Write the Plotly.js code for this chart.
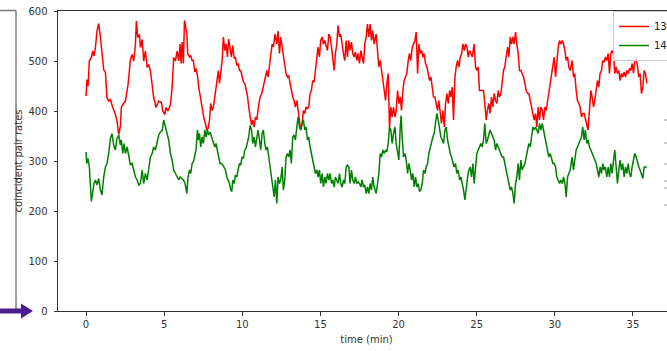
<!DOCTYPE html>
<html>
<head>
<meta charset="utf-8">
<script src="https://cdn.plot.ly/plotly-3.0.1.min.js"></script>
<style>
html, body { margin: 0; padding: 0; overflow: hidden; background: #ffffff; }
#chart { width: 690px; height: 351px; }
</style>
</head>
<body>
<div id="chart"></div>
<script>
// ---- data ----
const seriesNames = ["13", "14"];
const xTicks = [0, 5, 10, 15, 20, 25, 30, 35];
const yTicks = [0, 100, 200, 300, 400, 500, 600];

const timeRed = [
0.0,0.06,0.13,0.21,0.34,0.43,0.51,0.60,0.70,0.81,0.92,1.02,1.13,1.24,1.34,1.45,1.56,1.71,1.88,1.98,
2.09,2.20,2.26,2.35,2.52,2.69,2.84,2.95,3.05,3.16,3.22,3.31,3.41,3.48,3.59,3.69,3.80,3.91,4.01,4.12,
4.23,4.33,4.48,4.65,4.82,4.91,5.04,5.12,5.25,5.40,5.51,5.61,5.72,5.83,5.93,
6.02,6.08,6.15,6.23,6.30,6.38,6.45,6.51,6.62,6.70,6.79,6.87,6.96,7.04,7.13,7.21,7.30,7.38,7.47,7.55,
7.64,7.73,7.81,7.90,7.98,8.07,8.15,8.26,8.37,8.47,8.54,8.62,8.71,8.79,8.88,8.96,9.05,9.13,9.22,9.30,
9.39,9.48,9.56,9.65,9.73,9.82,9.90,9.99,10.07,10.16,10.24,10.33,10.41,10.50,10.59,10.67,10.76,10.84,10.93,11.03,
11.14,11.25,11.35,11.46,11.57,11.65,11.74,11.82,11.91,11.99,12.10,12.21,
12.29,12.38,12.46,12.55,12.63,12.72,12.80,12.89,12.97,13.06,13.14,13.23,13.31,13.40,13.49,13.57,13.66,13.74,13.83,13.91,
14.00,14.08,14.17,14.25,14.34,14.42,14.51,14.60,14.68,14.77,14.85,14.94,15.02,15.11,15.19,15.28,15.36,15.45,15.54,15.62,
15.71,15.79,15.88,15.96,16.05,16.13,16.22,16.30,16.39,16.47,16.56,16.65,16.73,16.82,16.90,16.99,17.07,17.16,17.24,17.33,
17.41,17.50,17.59,17.67,17.76,17.84,17.93,18.01,18.10,18.18,18.27,18.35,18.44,
18.57,18.66,18.74,18.83,18.91,19.00,19.08,19.17,19.25,19.34,19.42,19.51,19.59,19.68,19.77,19.85,19.94,20.02,20.11,20.19,
20.28,20.36,20.45,20.53,20.62,20.70,20.79,20.88,20.96,21.05,21.13,21.22,21.30,21.39,21.47,21.56,21.64,21.73,21.82,21.90,
21.99,22.07,22.16,22.24,22.33,22.41,22.50,22.58,22.67,22.75,22.84,22.93,23.01,23.10,23.18,23.27,23.35,23.44,23.52,23.61,
23.69,23.78,23.87,23.95,24.04,24.12,24.21,24.29,24.38,24.46,24.55,24.63,24.72,
24.84,24.93,25.01,25.10,25.18,25.27,25.35,25.44,25.52,25.61,25.69,25.78,25.86,25.95,26.04,26.12,26.21,26.29,26.38,26.46,
26.55,26.63,26.72,26.80,26.89,26.98,27.06,27.15,27.23,27.32,27.40,27.49,27.57,27.66,27.74,27.83,27.91,28.00,28.09,28.17,
28.26,28.34,28.43,28.51,28.60,28.68,28.77,28.85,28.94,29.02,29.11,29.20,29.28,29.37,29.45,29.54,29.62,29.71,29.79,29.88,
29.96,30.05,30.13,30.22,30.31,30.39,30.48,30.56,30.65,30.73,30.82,30.90,30.99,
31.11,31.20,31.28,31.37,31.45,31.54,31.62,31.71,31.79,31.88,31.96,32.05,32.13,32.22,32.31,32.39,32.48,32.56,32.65,32.73,
32.82,32.90,32.99,33.07,33.16,33.24,33.33,33.42,33.50,33.59,33.67,33.76,33.84,33.93,34.01,34.10,34.18,34.27,34.35,34.44,
34.53,34.61,34.70,34.78,34.87,34.95,35.04,35.12,35.21,35.29,35.38,35.46,35.55,35.64,35.72,35.81,35.89
];

const rate13 = [
430,463,450,500,507,520,510,527,560,575,547,513,483,477,427,420,423,407,393,380,
353,370,407,413,420,453,503,513,500,533,580,547,553,527,543,500,520,487,493,480,
453,427,407,420,417,400,393,407,400,413,447,507,500,520,500,
534,495,538,495,581,568,554,515,508,511,501,501,478,485,471,448,431,415,401,385,
375,362,365,382,415,401,408,435,455,481,455,475,501,548,521,534,508,544,528,508,
531,505,508,491,495,481,481,468,458,455,441,431,408,388,372,382,368,388,382,408,
428,435,448,461,481,468,495,521,534,528,554,534,
560,515,548,528,508,488,475,468,471,455,441,428,421,408,421,401,382,362,375,401,
395,408,405,408,435,441,461,458,481,501,528,508,541,548,534,541,528,521,554,548,
528,501,481,515,534,571,548,554,528,515,501,541,508,541,521,538,515,508,518,501,
515,495,521,508,495,534,548,574,548,574,541,561,534,
554,508,488,501,481,468,441,421,455,475,368,408,388,408,388,401,441,415,428,401,
441,461,468,475,501,515,501,528,534,541,558,475,534,515,521,508,515,495,488,475,
461,468,441,428,428,415,401,421,388,375,401,368,415,435,415,441,428,448,382,468,
488,501,488,508,515,534,521,534,528,508,521,515,508,
534,488,481,488,441,441,441,441,415,382,401,415,395,428,408,435,421,415,441,428,
435,455,481,488,515,528,508,548,534,548,534,558,534,515,481,481,475,468,455,441,
435,435,421,408,401,382,395,368,408,382,408,401,382,408,401,421,435,455,468,488,
508,468,501,528,541,534,541,534,521,501,508,488,481,
501,468,475,441,421,415,408,388,395,395,382,375,362,401,441,428,408,421,441,461,
448,475,481,501,498,508,501,515,475,515,521,515,475,488,475,481,461,475,468,478,
468,481,475,485,481,495,475,501,508,488,468,475,435,448,481,475,455
];

const timeGreen = [
0.0,0.04,0.13,0.21,0.34,0.43,0.51,0.60,0.70,0.81,0.92,1.02,1.13,1.24,1.34,1.45,1.56,1.66,1.77,1.88,
1.98,2.09,2.20,2.26,2.35,2.43,2.52,2.63,2.73,2.84,2.95,3.05,3.16,3.27,3.37,3.48,3.59,3.69,3.80,3.91,
4.01,4.12,4.23,4.33,4.44,4.55,4.65,4.76,4.87,4.97,5.08,5.19,5.29,5.40,5.51,5.61,5.72,5.83,5.93,
6.02,6.12,6.23,6.34,6.45,6.53,6.62,6.70,6.79,6.87,6.96,7.04,7.13,7.19,7.26,7.34,7.43,7.51,7.60,7.68,
7.77,7.85,7.94,8.05,8.15,8.24,8.32,8.41,8.49,8.58,8.66,8.75,8.84,8.92,9.01,9.09,9.18,9.26,9.33,9.39,
9.48,9.56,9.65,9.73,9.82,9.90,9.99,10.07,10.16,10.24,10.33,10.41,10.50,10.59,10.67,10.76,10.84,10.93,11.01,11.10,
11.18,11.27,11.35,11.44,11.52,11.61,11.69,11.78,11.87,11.95,12.04,12.12,12.21,
12.29,12.38,12.46,12.55,12.63,12.72,12.80,12.89,12.97,13.06,13.14,13.23,13.31,13.40,13.49,13.57,13.66,13.74,13.83,13.91,
14.00,14.08,14.17,14.25,14.34,14.42,14.51,14.60,14.68,14.77,14.85,14.94,15.02,15.11,15.19,15.28,15.36,15.45,15.54,15.62,
15.71,15.79,15.88,15.96,16.05,16.13,16.22,16.30,16.39,16.47,16.56,16.65,16.73,16.82,16.90,16.99,17.07,17.16,17.24,17.33,
17.41,17.50,17.59,17.67,17.76,17.84,17.93,18.01,18.10,18.18,18.27,18.35,18.44,
18.57,18.66,18.74,18.83,18.91,19.00,19.08,19.17,19.25,19.34,19.42,19.51,19.59,19.68,19.77,19.85,19.94,20.02,20.11,20.17,
20.23,20.32,20.41,20.49,20.58,20.66,20.75,20.83,20.92,21.00,21.09,21.17,21.26,21.34,21.43,21.52,21.60,21.69,21.77,21.86,
21.94,22.03,22.11,22.20,22.28,22.37,22.45,22.54,22.62,22.71,22.80,22.88,22.97,23.05,23.14,23.22,23.31,23.39,23.48,23.56,
23.65,23.73,23.82,23.91,23.99,24.08,24.16,24.25,24.33,24.42,24.50,24.59,24.67,24.76,
24.84,24.93,25.01,25.10,25.18,25.27,25.35,25.44,25.52,25.61,25.69,25.78,25.86,25.95,26.04,26.12,26.21,26.29,26.38,26.46,
26.55,26.63,26.72,26.80,26.89,26.98,27.06,27.15,27.23,27.32,27.40,27.49,27.57,27.66,27.74,27.83,27.91,28.00,28.09,28.17,
28.26,28.34,28.43,28.51,28.60,28.68,28.77,28.85,28.94,29.02,29.11,29.20,29.28,29.37,29.45,29.54,29.62,29.71,29.79,29.88,
29.96,30.05,30.13,30.22,30.31,30.39,30.48,30.56,30.65,30.73,30.82,30.90,30.99,
31.11,31.20,31.28,31.37,31.45,31.54,31.62,31.71,31.79,31.88,31.96,32.05,32.13,32.22,32.31,32.39,32.48,32.56,32.65,32.73,
32.82,32.90,32.99,33.07,33.16,33.24,33.33,33.42,33.50,33.59,33.67,33.76,33.84,33.93,34.01,34.10,34.18,34.27,34.35,34.44,
34.53,34.61,34.70,34.78,34.87,34.95,35.04,35.12,35.21,35.29,35.38,35.46,35.55,35.64,35.72,35.81,35.89
];

const rate14 = [
318,295,305,288,219,242,255,262,252,265,242,232,268,288,295,315,345,355,332,322,
345,352,332,342,315,335,315,328,308,292,295,282,268,262,252,255,282,255,275,262,
288,308,315,328,322,335,352,358,361,382,368,355,342,315,302,282,275,268,262,
268,265,262,255,235,268,282,275,295,298,308,322,362,342,355,328,348,335,362,348,
362,352,358,348,338,328,335,315,308,295,295,292,288,282,268,262,255,242,239,262,
255,272,268,282,295,292,308,305,322,325,335,348,371,362,335,348,328,352,362,342,
322,355,362,335,322,328,308,295,268,242,228,262,215,
268,255,262,288,242,262,308,315,308,322,295,348,352,342,368,388,368,362,375,382,
362,368,342,348,328,315,295,288,275,282,268,282,255,275,248,268,255,275,262,275,
255,262,248,268,262,255,275,255,248,262,255,288,292,288,255,282,262,255,268,255,
258,255,248,262,248,252,235,248,235,255,242,268,248,
235,255,275,315,308,322,315,322,318,335,368,362,335,355,368,335,315,302,368,391,
348,308,315,302,275,295,282,262,275,248,268,248,255,239,242,255,282,275,288,295,
315,328,335,348,355,375,395,382,362,348,342,335,362,368,342,328,315,308,295,288,
295,275,282,262,268,255,242,222,248,268,282,288,268,295,
255,295,315,322,328,335,328,342,375,335,342,355,362,355,348,342,322,335,328,322,
315,308,308,295,282,268,255,242,248,235,215,255,268,295,262,302,282,288,295,308,
322,335,328,348,368,362,368,362,355,375,362,375,362,348,335,315,308,315,302,295,
295,288,268,262,255,262,255,268,255,228,268,275,282,
308,282,302,322,328,335,342,348,368,342,362,335,342,328,322,315,308,302,295,282,
268,288,275,295,282,288,268,288,268,295,275,302,322,288,255,282,302,282,295,268,
288,275,295,275,268,288,302,315,308,295,288,282,275,265,288,288,288
];

// ---- figure geometry (pixels) ----
const W = 690, H = 351, ML = 58, MR = 15, MT = 11, MB = 40;
const PW = W - ML - MR, PH = H - MT - MB;
const px = v => (v - ML) / PW;          // pixel x -> paper x
const py = v => (H - MB - v) / PH;      // pixel y -> paper y

const traces = [
  { x: timeRed, y: rate13, name: seriesNames[0], type: 'scatter', mode: 'lines',
    line: { color: '#ff0000', width: 1.5 } },
  { x: timeGreen, y: rate14, name: seriesNames[1], type: 'scatter', mode: 'lines',
    line: { color: '#008000', width: 1.5 } }
];

const axisFont = { family: 'DejaVu Sans, sans-serif', size: 10, color: '#333333' };

const shapes = [
  // screenshot artefacts on the left
  { type: 'line', xref: 'paper', yref: 'paper', x0: px(16), x1: px(16), y0: py(10.5), y1: py(312),
    line: { color: '#7a7a7a', width: 1.5 } },
  { type: 'line', xref: 'paper', yref: 'paper', x0: px(0), x1: px(16), y0: py(10.5), y1: py(10.5),
    line: { color: '#7a7a7a', width: 1.5 } },
  { type: 'line', xref: 'paper', yref: 'paper', x0: px(0), x1: px(23), y0: py(311), y1: py(311),
    line: { color: '#4b1d8f', width: 5 } },
  { type: 'path', xref: 'paper', yref: 'paper',
    path: 'M' + px(21) + ',' + py(303.5) + ' L' + px(33) + ',' + py(311) + ' L' + px(21) + ',' + py(318.5) + ' Z',
    fillcolor: '#4b1d8f', line: { color: '#4b1d8f', width: 0 } }
];
// small dashes at the right edge
[120, 143, 164, 181, 188, 205].forEach(v => {
  shapes.push({ type: 'line', xref: 'paper', yref: 'paper', x0: px(664), x1: px(667), y0: py(v), y1: py(v),
    line: { color: '#9a9a9a', width: 1 } });
});

const layout = {
  width: W, height: H,
  margin: { l: ML, r: MR, t: MT, b: MB, pad: 0 },
  paper_bgcolor: '#ffffff', plot_bgcolor: '#ffffff',
  font: axisFont,
  showlegend: true,
  legend: {
    x: px(613), y: py(11), xanchor: 'left', yanchor: 'top',
    bgcolor: 'rgba(255,255,255,0.9)', bordercolor: '#cccccc', borderwidth: 1,
    font: { family: 'DejaVu Sans, sans-serif', size: 10, color: '#222222' },
    tracegroupgap: 0
  },
  xaxis: {
    range: [-1.795, 37.695], tickmode: 'array', tickvals: xTicks, ticktext: xTicks.map(String),
    showgrid: false, zeroline: false, showline: true, mirror: true,
    linecolor: '#333333', linewidth: 1, ticks: 'outside', ticklen: 3.5, tickwidth: 1, tickcolor: '#333333',
    tickfont: axisFont,
    title: { text: 'time (min)', font: axisFont, standoff: 7 }
  },
  yaxis: {
    range: [0, 600], tickmode: 'array', tickvals: yTicks, ticktext: yTicks.map(String),
    showgrid: false, zeroline: false, showline: true, mirror: true,
    linecolor: '#333333', linewidth: 1, ticks: 'outside', ticklen: 3.5, tickwidth: 1, tickcolor: '#333333',
    ticklabelstandoff: 4,
    tickfont: axisFont,
    title: { text: 'coincident pair rates', font: axisFont, standoff: 3 }
  },
  shapes: shapes
};

Plotly.newPlot('chart', traces, layout, { displayModeBar: false, staticPlot: true });
</script>
</body>
</html>
